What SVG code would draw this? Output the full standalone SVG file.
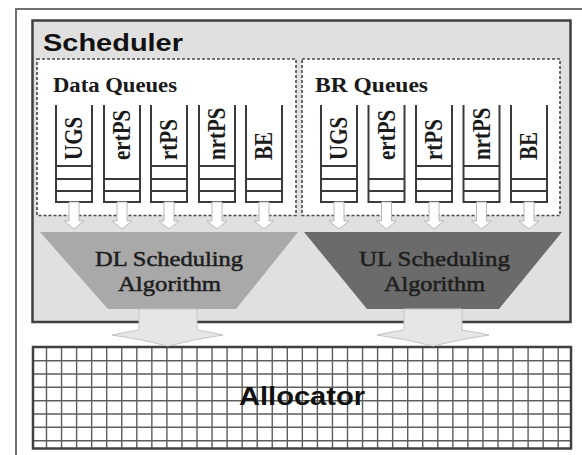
<svg xmlns="http://www.w3.org/2000/svg" width="582" height="455" viewBox="0 0 582 455">
<defs>
<style>
.q{fill:none;stroke:#3a3a3a;stroke-width:2}
.ql{font-family:"Liberation Serif","Times New Roman",serif;font-weight:bold;font-size:21px;fill:#1a1a1a}
.sa{fill:#ffffff;stroke:#b8b8b8;stroke-width:1}
.dash{fill:#ffffff;stroke:#4a4a4a;stroke-width:1.6;stroke-dasharray:3,2}
.grid{stroke:#5e5e5e;stroke-width:1.4}
.big{fill:#e6e6e6;stroke:#c4c4c4;stroke-width:1}
.alg{font-family:"Liberation Serif","Times New Roman",serif;font-size:21px;fill:#1e1e1e;stroke:#1e1e1e;stroke-width:0.5;text-anchor:middle}
.hd{font-family:"Liberation Serif","Times New Roman",serif;font-weight:bold;font-size:20px;fill:#1a1a1a}
</style>
<g id="qshape3">
<path class="q" d="M0,0 V97 H36 V0 M0,61 H36 M0,74 H36 M0,86 H36"/>
</g>
<g id="qshape2">
<path class="q" d="M0,0 V97 H36 V0 M0,74 H36 M0,86 H36"/>
</g>
<path id="sarrow" class="sa" d="M-5,0 H5 V19 H10 L0,27 L-10,19 H-5 Z"/>
</defs>
<rect x="0" y="0" width="582" height="455" fill="#ffffff"/>
<rect id="frame" x="16" y="9" width="580" height="470" fill="#ffffff" stroke="#707070" stroke-width="2"/>

<g id="scheduler">
<rect x="32.5" y="20.5" width="538" height="301.5" fill="#e0e0e0" stroke="#404040" stroke-width="2.5"/>
<text x="43" y="51" font-family="Liberation Sans, Arial, sans-serif" font-weight="bold" font-size="24" fill="#111" textLength="140" lengthAdjust="spacingAndGlyphs">Scheduler</text>
</g>

<g id="data-queues">
<rect class="dash" x="37" y="59" width="259" height="156.5"/>
<text class="hd" x="53" y="92" textLength="124" lengthAdjust="spacingAndGlyphs">Data Queues</text>
<g id="dq-ugs"><use href="#qshape3" x="56" y="105"/><text class="ql" transform="translate(82,160) scale(1.16,1) rotate(-90)">UGS</text></g>
<g id="dq-ertps"><use href="#qshape2" x="104" y="105"/><text class="ql" transform="translate(130,160) scale(1.16,1) rotate(-90)">ertPS</text></g>
<g id="dq-rtps"><use href="#qshape3" x="151" y="105"/><text class="ql" transform="translate(177,160) scale(1.16,1) rotate(-90)">rtPS</text></g>
<g id="dq-nrtps"><use href="#qshape3" x="199" y="105"/><text class="ql" transform="translate(225,160) scale(1.16,1) rotate(-90)">nrtPS</text></g>
<g id="dq-be"><use href="#qshape2" x="246" y="105"/><text class="ql" transform="translate(272,160) scale(1.16,1) rotate(-90)">BE</text></g>
</g>

<g id="br-queues">
<rect class="dash" x="302" y="59" width="258" height="156.5"/>
<text class="hd" x="315" y="92" textLength="113" lengthAdjust="spacingAndGlyphs">BR Queues</text>
<g id="br-ugs"><use href="#qshape3" x="321" y="105"/><text class="ql" transform="translate(347,160) scale(1.16,1) rotate(-90)">UGS</text></g>
<g id="br-ertps"><use href="#qshape2" x="368.5" y="105"/><text class="ql" transform="translate(394.5,160) scale(1.16,1) rotate(-90)">ertPS</text></g>
<g id="br-rtps"><use href="#qshape3" x="416" y="105"/><text class="ql" transform="translate(442,160) scale(1.16,1) rotate(-90)">rtPS</text></g>
<g id="br-nrtps"><use href="#qshape3" x="463.5" y="105"/><text class="ql" transform="translate(489.5,160) scale(1.16,1) rotate(-90)">nrtPS</text></g>
<g id="br-be"><use href="#qshape2" x="511" y="105"/><text class="ql" transform="translate(537,160) scale(1.16,1) rotate(-90)">BE</text></g>
</g>

<g id="dl-algorithm">
<polygon points="40,232 298,232 236,309 108,309" fill="#a9a9a9"/>
<text class="alg" x="169" y="266" textLength="148" lengthAdjust="spacingAndGlyphs">DL Scheduling</text>
<text class="alg" x="169.5" y="291" textLength="103" lengthAdjust="spacingAndGlyphs">Algorithm</text>
</g>

<g id="ul-algorithm">
<polygon points="304,232 562,232 499,309 367,309" fill="#6b6b6b"/>
<text class="alg" x="434.5" y="266" textLength="151" lengthAdjust="spacingAndGlyphs">UL Scheduling</text>
<text class="alg" x="434.5" y="291" textLength="101" lengthAdjust="spacingAndGlyphs">Algorithm</text>
</g>

<g id="allocator">
<rect x="33" y="347" width="538" height="101.5" fill="#ffffff"/>
<g class="grid">
<path d="M46.5,347V448.5M61.55,347V448.5M76.6,347V448.5M91.65,347V448.5M106.7,347V448.5M121.75,347V448.5M136.8,347V448.5M151.85,347V448.5M166.9,347V448.5M181.95,347V448.5M197,347V448.5M212.05,347V448.5M227.1,347V448.5M242.15,347V448.5M257.2,347V448.5M272.25,347V448.5M287.3,347V448.5M302.35,347V448.5M317.4,347V448.5M332.45,347V448.5M347.5,347V448.5M362.55,347V448.5M377.6,347V448.5M392.65,347V448.5M407.7,347V448.5M422.75,347V448.5M437.8,347V448.5M452.85,347V448.5M467.9,347V448.5M482.95,347V448.5M498,347V448.5M513.05,347V448.5M528.1,347V448.5M543.15,347V448.5M558.2,347V448.5"/>
<path d="M33,360.7H571M33,374H571M33,387.3H571M33,400.7H571M33,414H571M33,427.3H571M33,440.7H571"/>
</g>
<rect x="33" y="347" width="538" height="101.5" fill="none" stroke="#404040" stroke-width="2.5"/>
<text x="302" y="405" font-family="Liberation Sans, Arial, sans-serif" font-weight="bold" font-size="25" fill="#111" text-anchor="middle" textLength="126" lengthAdjust="spacingAndGlyphs">Allocator</text>
</g>

<g id="connectors">
<use href="#sarrow" x="74" y="202"/>
<use href="#sarrow" x="122" y="202"/>
<use href="#sarrow" x="169" y="202"/>
<use href="#sarrow" x="217" y="202"/>
<use href="#sarrow" x="264" y="202"/>
<use href="#sarrow" x="339" y="202"/>
<use href="#sarrow" x="386.5" y="202"/>
<use href="#sarrow" x="434" y="202"/>
<use href="#sarrow" x="481.5" y="202"/>
<use href="#sarrow" x="529" y="202"/>
<path class="big" d="M139,309 H197 V330 Q210,332 223,335 Q195,339 168,346 Q141,339 112,335 Q126,332 139,330 Z"/>
<path class="big" d="M404,309 H462 V330 Q476,332 489,335 Q461,339 433,346 Q405,339 377,335 Q391,332 404,330 Z"/>
</g>
</svg>
